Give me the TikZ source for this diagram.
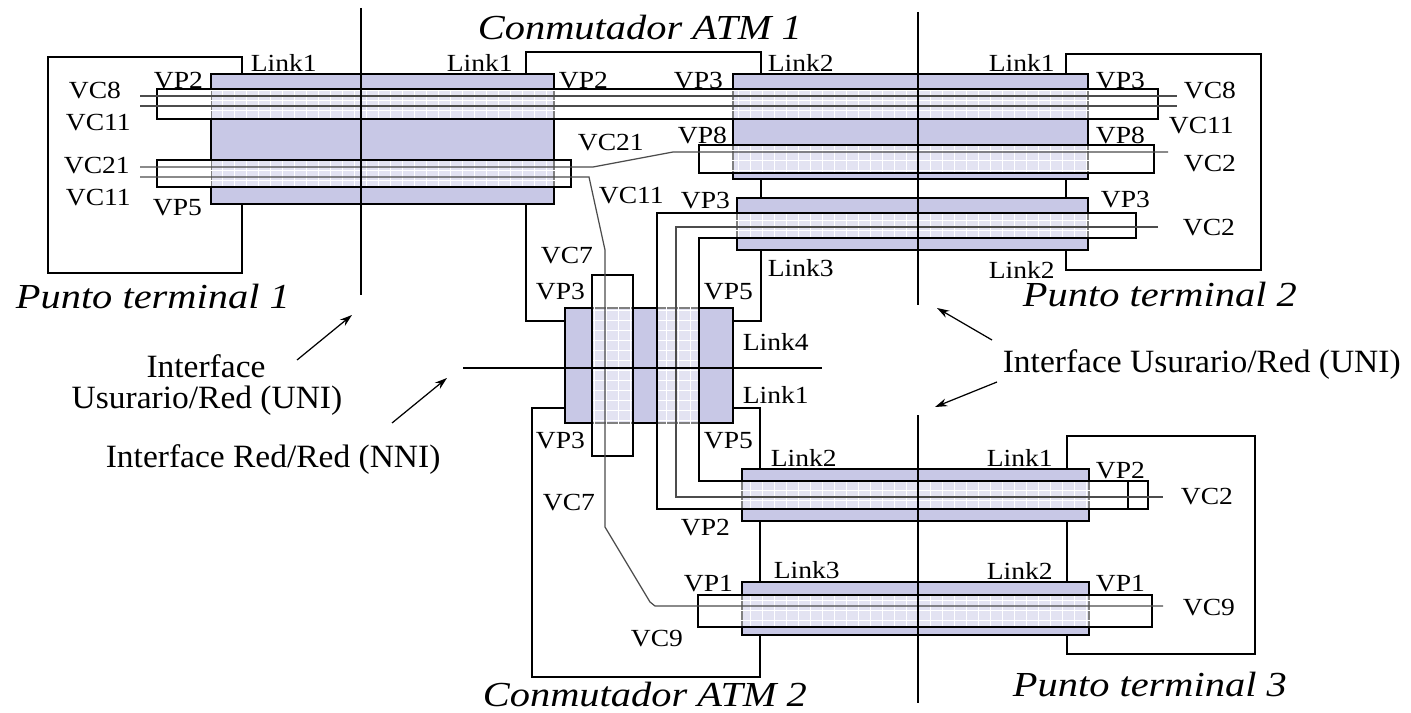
\documentclass[tikz,border=0pt]{standalone}
\usepackage{fontspec}
\setmainfont{Liberation Serif}
\newfontfamily\ttlfont{Liberation Serif Italic}
\usetikzlibrary{arrows.meta}
\definecolor{linkfill}{RGB}{200,200,230}
\tikzset{
  vpshapes/.style={insert path={
    (157,89) rectangle (1158,119)
    (157,160) rectangle (571,187)
    (699,145) rectangle (1154,173)
    (592,275) rectangle (633,456)
    (698,595) rectangle (1152,627)
    (1136,213) -- (657,213) -- (657,509) -- (1148,509) -- (1148,481)
      -- (699,481) -- (699,238) -- (1136,238) -- cycle}}
}
\begin{document}
\begin{tikzpicture}
  [x=0.02cm,y=-0.02cm,line width=0.9pt,
   every node/.style={inner sep=0pt,anchor=west,text depth=0pt},
   lbl/.style={font=\fontsize{14}{16}\selectfont,xscale=1.12,text height=9.2pt},
   ifc/.style={font=\fontsize{18.5}{20}\selectfont,xscale=1.03,text height=12.2pt},
   ttl/.style={font=\ttlfont\fontsize{20}{24}\selectfont,xscale=1.15,text height=13pt},
   linkbox/.style={fill=linkfill,draw=black},
   vc/.style={line width=0.7pt,draw=black!70},
   uni/.style={line width=1pt},
   pointer/.style={-{Stealth[length=7pt,width=4.5pt]},line width=0.7pt}]
  \useasboundingbox (0,0) rectangle (1411,713);

  % enlaces (links)
  \foreach \xa/\ya/\xb/\yb in {211/74/554/204, 733/74/1088/179, 737/198/1088/250,
                               565/308/733/423, 742/469/1089/521, 742/582/1089/635}
    \draw[linkbox] (\xa,\ya) rectangle (\xb,\yb);

  % caminos virtuales (VP)
  \fill[white,opacity=.5,vpshapes];
  \begin{scope}
    \clip[vpshapes];
    \foreach \gx in {150,162,...,1160}
      \draw[white,line width=0.4pt] (\gx,80) -- (\gx,640);
    \foreach \gy in {80,90,...,640}
      \draw[white,line width=0.4pt] (150,\gy) -- (1160,\gy);
  \end{scope}
  \draw[vpshapes];
  \draw (1128,481) -- (1128,509);

  % canales virtuales (VC)
  \draw[vc] (140,96) -- (1177,96);
  \draw[vc] (140,106) -- (1177,106);
  \draw[vc] (140,167) -- (593,167) -- (673,152) -- (1168,152);
  \draw[vc] (140,177) -- (589,177) -- (605,250) -- (605,527) -- (650,602) -- (655,606) -- (1163,606);
  \draw[vc] (1158,227) -- (676,227) -- (676,497) -- (1163,497);

  % equipos
  \draw (242,74) -- (242,57) -- (48,57) -- (48,273) -- (242,273) -- (242,204);
  \draw (526,74) -- (526,52) -- (761,52) -- (761,74);
  \draw (526,204) -- (526,321) -- (565,321);
  \draw (761,179) -- (761,198);
  \draw (761,250) -- (761,321) -- (733,321);
  \draw (1066,74) -- (1066,54) -- (1261,54) -- (1261,270) -- (1066,270) -- (1066,250);
  \draw (1066,179) -- (1066,198);
  \draw (565,408) -- (532,408) -- (532,677) -- (760,677) -- (760,635);
  \draw (733,408) -- (760,408) -- (760,469);
  \draw (760,521) -- (760,582);
  \draw (1067,469) -- (1067,436) -- (1255,436) -- (1255,654) -- (1067,654) -- (1067,635);
  \draw (1067,521) -- (1067,582);

  % interfaces
  \draw[uni] (361,8) -- (361,295);
  \draw[uni] (918,12) -- (918,305);
  \draw[uni] (918,415) -- (918,703);
  \draw[uni] (463,368) -- (822,368);

  % etiquetas
  \foreach \n/\x/\y/\t in {
      aLa/250/63/Link1, aVPa/153/80/VP2, aVCa/68/90/VC8, aVCb/65/122/VC11,
      aVCc/63/165/VC21, aVCd/65/197/VC11, aVPb/152/207/VP5,
      bLa/446/63/Link1, bVPa/558/80/VP2, bVPb/673/80/VP3, bLb/767/63/Link2,
      bVCa/577/142/VC21, bVPc/677/135/VP8, bVCb/598/195/VC11, bVPd/680/200/VP3,
      bVCc/540/255/VC7, bLc/767/268/Link3, bVPe/535/291/VP3, bVPf/703/291/VP5,
      bLd/742/342/Link4,
      cLa/988/63/Link1, cVPa/1095/80/VP3, cVCa/1183/90/VC8, cVCb/1168/125/VC11,
      cVPb/1095/135/VP8, cVCc/1183/163/VC2, cVPc/1100/199/VP3, cVCd/1182/227/VC2,
      cLb/988/270/Link2,
      dLa/742/395/Link1, dVPa/535/440/VP3, dVPb/703/440/VP5, dVCa/542/502/VC7,
      dLb/770/458/Link2, dVPc/680/527/VP2, dLc/773/570/Link3, dVPd/683/583/VP1,
      dVCb/630/638/VC9,
      eLa/986/458/Link1, eVPa/1095/470/VP2, eVCa/1180/496/VC2,
      eLb/986/571/Link2, eVPb/1095/583/VP1, eVCb/1182/607/VC9}
    \node[lbl] (\n) at (\x,\y) {\t};

  \node[ttl] (pt1) at (15,297) {Punto terminal 1};
  \node[ttl] (pt2) at (1022,295) {Punto terminal 2};
  \node[ttl] (pt3) at (1012,685) {Punto terminal 3};
  \node[ttl] (atm1) at (477,28) {Conmutador ATM 1};
  \node[ttl] (atm2) at (482,695) {Conmutador ATM 2};

  \node[ifc,anchor=center] (uniLa) at (206,367) {Interface};
  \node[ifc,anchor=center] (uniLb) at (207,398) {Usurario/Red (UNI)};
  \node[ifc] (nniL) at (105,457) {Interface Red/Red (NNI)};
  \node[ifc] (uniR) at (1002,362) {Interface Usurario/Red (UNI)};

  % flechas
  \coordinate (uniLs) at (297,360);  \coordinate (uniLe) at (352,315);
  \coordinate (nniS) at (392,423);   \coordinate (nniE) at (447,378);
  \coordinate (uniRs) at (992,340);  \coordinate (uniRe) at (937,308);
  \coordinate (uniBs) at (997,382);  \coordinate (uniBe) at (935,407);
  \draw[pointer] (uniLs) -- (uniLe);
  \draw[pointer] (nniS) -- (nniE);
  \draw[pointer] (uniRs) -- (uniRe);
  \draw[pointer] (uniBs) -- (uniBe);
\end{tikzpicture}
\end{document}
